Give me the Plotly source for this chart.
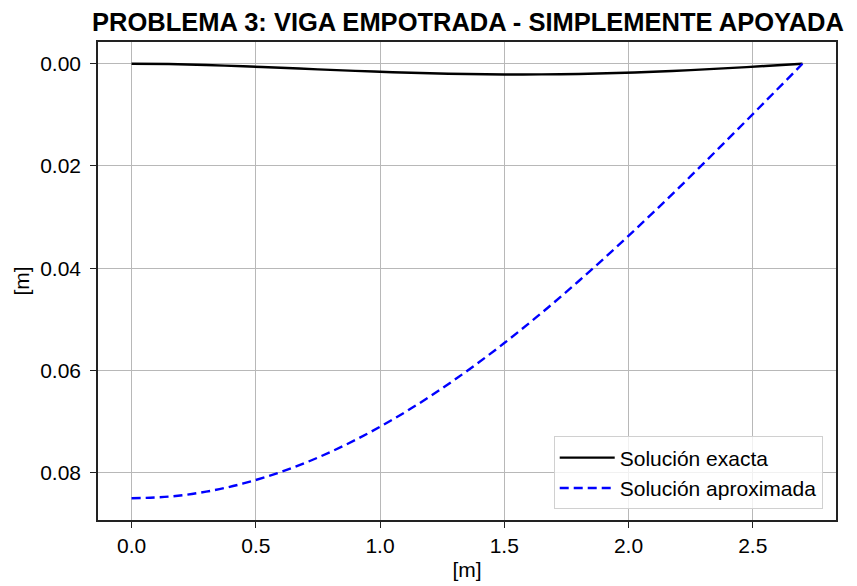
import plotly.graph_objects as go

x = [0.0, 0.15, 0.30, 0.45, 0.60, 0.75, 0.90, 1.05, 1.20, 1.35, 1.50, 1.65, 1.80, 1.95, 2.10, 2.25, 2.40, 2.55, 2.70]
y_exacta = [0.0, 0.000068, 0.000246, 0.000499, 0.000793, 0.001101, 0.001397, 0.001659, 0.001872, 0.00202,
            0.002095, 0.002086, 0.001995, 0.001821, 0.001569, 0.001247, 0.000869, 0.000445, 0.0]
y_aprox = [0.085, 0.08468, 0.08371, 0.08210, 0.07987, 0.07704, 0.07361, 0.06963, 0.06511, 0.06010,
           0.05464, 0.04875, 0.04250, 0.03592, 0.02907, 0.02200, 0.01476, 0.00741, 0.0]

x_ticks = [0.0, 0.5, 1.0, 1.5, 2.0, 2.5]
x_ticklabels = ["0.0", "0.5", "1.0", "1.5", "2.0", "2.5"]
y_ticks = [0.00, 0.02, 0.04, 0.06, 0.08]
y_ticklabels = ["0.00", "0.02", "0.04", "0.06", "0.08"]

font = "Liberation Sans, Arial, sans-serif"

fig = go.Figure()
fig.add_trace(go.Scatter(x=x, y=y_exacta, mode="lines", name="Solución exacta",
                         line=dict(color="black", width=2.4, shape="spline", smoothing=0.8)))
fig.add_trace(go.Scatter(x=x, y=y_aprox, mode="lines", name="Solución aproximada",
                         line=dict(color="blue", width=2.4, dash="9px,5px", shape="spline")))

axis_common = dict(showline=True, linecolor="#222222", linewidth=1.5, mirror=True,
                   ticks="outside", ticklen=6, tickwidth=1.3, tickcolor="#222222",
                   showgrid=True, gridcolor="#b8b8b8", gridwidth=1.2, zeroline=False,
                   automargin=False,
                   tickfont=dict(size=21, color="black", family=font))

fig.update_layout(
    width=857, height=586,
    margin=dict(l=98, r=21, t=42, b=66),
    paper_bgcolor="white", plot_bgcolor="white",
    title=dict(text="<b>PROBLEMA 3: VIGA EMPOTRADA - SIMPLEMENTE APOYADA</b>",
               x=(88 + 848) / 2 / 857, xanchor="center", y=1 - 22 / 586, yanchor="middle",
               font=dict(size=25.5, color="black", family=font)),
    xaxis=dict(range=[-0.135, 2.835], tickvals=x_ticks, ticktext=x_ticklabels,
               title=dict(text="[m]", font=dict(size=21, color="black", family=font), standoff=6),
               **axis_common),
    yaxis=dict(range=[0.08925, -0.00425], tickvals=y_ticks, ticktext=y_ticklabels,
               ticklabelstandoff=5,
               title=dict(text="[m]", font=dict(size=21, color="black", family=font), standoff=5),
               **axis_common),
    legend=dict(x=0.982, y=0.022, xanchor="right", yanchor="bottom",
                bgcolor="rgba(255,255,255,0.8)", bordercolor="#d0d0d0", borderwidth=1,
                font=dict(size=21, color="black", family=font), tracegroupgap=0,
                itemwidth=55),
    showlegend=True,
)

fig.write_html("out.html")
